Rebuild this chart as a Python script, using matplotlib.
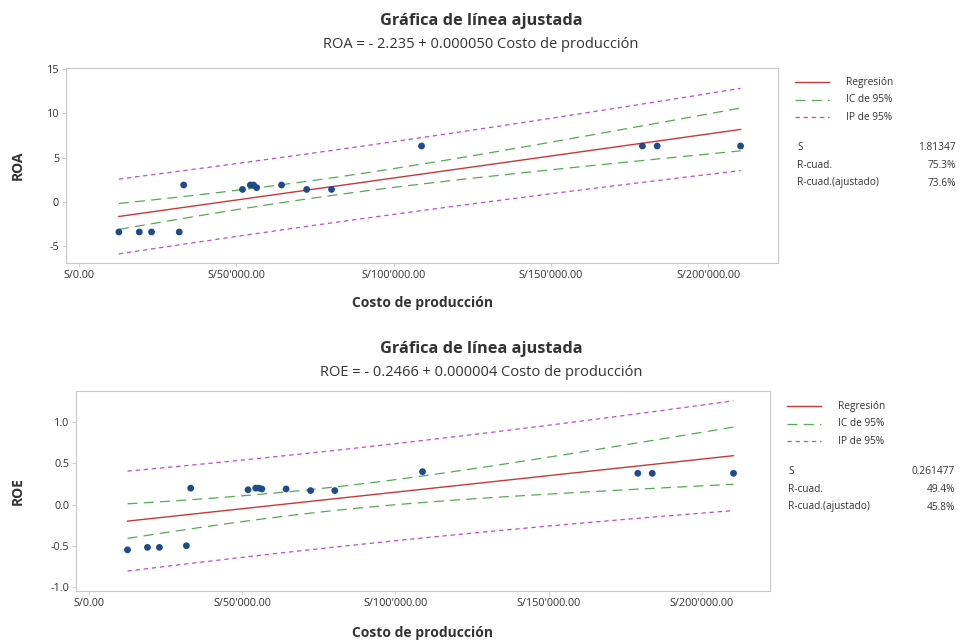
import numpy as np
import matplotlib
matplotlib.use("Agg")
import matplotlib.pyplot as plt
from matplotlib.ticker import FuncFormatter
from matplotlib.lines import Line2D

plt.rcParams['font.family'] = ['Open Sans', 'DejaVu Sans']
plt.rcParams['axes.unicode_minus'] = False

# ---- data ----
costo = [12700, 19200, 23100, 31900, 33300, 52000, 54500, 55500, 56500,
         64400, 72400, 80300, 108900, 179100, 183800, 210300]
roa = [-3.4, -3.4, -3.4, -3.4, 1.9, 1.4, 1.9, 1.9, 1.6,
       1.9, 1.4, 1.4, 6.3, 6.3, 6.3, 6.3]
roe = [-0.55, -0.52, -0.52, -0.50, 0.20, 0.18, 0.20, 0.20, 0.19,
       0.19, 0.17, 0.17, 0.40, 0.38, 0.38, 0.38]

x_ticks = [0, 50000, 100000, 150000, 200000]
roa_ticks = [-5, 0, 5, 10, 15]
roe_ticks = [-1.0, -0.5, 0.0, 0.5, 1.0]

titulo = "Gráfica de línea ajustada"
sub_roa = "ROA = - 2.235 + 0.000050 Costo de producción"
sub_roe = "ROE = - 0.2466 + 0.000004 Costo de producción"
xlabel = "Costo de producción"
leg_labels = ["Regresión", "IC de 95%", "IP de 95%"]
stats_names = ["S", "R-cuad.", "R-cuad.(ajustado)"]
stats_roa = ["1.81347", "75.3%", "73.6%"]
stats_roe = ["0.261477", "49.4%", "45.8%"]

T975 = 2.1448  # t(0.975, df=14)

C_REG = "#c43a3a"
C_CI = "#58a858"
C_PI = "#c04fc0"
C_PT = "#1f4a8c"
C_TXT = "#333333"
C_SP = "#c8c8c8"


def fmt_x(v, pos):
    s = f"{v:,.2f}".replace(",", "'")
    return "S/" + s


def fit_bands(x, y):
    x = np.asarray(x, float)
    y = np.asarray(y, float)
    n = len(x)
    b1, b0 = np.polyfit(x, y, 1)
    res = y - (b0 + b1 * x)
    s = np.sqrt(np.sum(res ** 2) / (n - 2))
    xm = x.mean()
    sxx = np.sum((x - xm) ** 2)
    g = np.linspace(x.min(), x.max(), 200)
    yh = b0 + b1 * g
    se_ci = s * np.sqrt(1 / n + (g - xm) ** 2 / sxx)
    se_pi = s * np.sqrt(1 + 1 / n + (g - xm) ** 2 / sxx)
    return g, yh, T975 * se_ci, T975 * se_pi


fig = plt.figure(figsize=(9.61, 6.41), dpi=100)
W, H = 961, 641


def panel(rect, y, yticks, ylim, ylab, sub, stats, title_y, sub_y, xl_y, ylab_x,
          leg_x0, leg_y0, stat_x0, stat_x1, stat_y0):
    l, t, r, b = rect
    ax = fig.add_axes([l / W, 1 - b / H, (r - l) / W, (b - t) / H])
    g, yh, ci, pi = fit_bands(costo, y)
    ax.plot(g, yh, color=C_REG, lw=1.0)
    ax.plot(g, yh + ci, color=C_CI, lw=0.9, dashes=(8, 5))
    ax.plot(g, yh - ci, color=C_CI, lw=0.9, dashes=(8, 5))
    ax.plot(g, yh + pi, color=C_PI, lw=0.9, dashes=(3.5, 3))
    ax.plot(g, yh - pi, color=C_PI, lw=0.9, dashes=(3.5, 3))
    ax.scatter(costo, y, s=24, color=C_PT, zorder=5, edgecolors='none')
    ax.set_xlim(-4100, 222200)
    ax.set_ylim(*ylim)
    ax.set_xticks(x_ticks)
    ax.set_yticks(yticks)
    ax.xaxis.set_major_formatter(FuncFormatter(fmt_x))
    if isinstance(yticks[0], float):
        ax.yaxis.set_major_formatter(FuncFormatter(lambda v, p: f"{v:.1f}"))
    ax.tick_params(labelsize=7.8, length=3, width=0.6, direction='out',
                   color=C_SP, labelcolor=C_TXT, pad=2)
    for sp in ax.spines.values():
        sp.set_color(C_SP)
        sp.set_linewidth(0.8)
    cx = (l + r) / 2
    fig.text(481 / W, 1 - title_y / H, titulo, ha='center', va='center',
             fontsize=11.8, fontweight='bold', color=C_TXT)
    fig.text(481 / W, 1 - sub_y / H, sub, ha='center', va='center',
             fontsize=10.5, color=C_TXT)
    fig.text(cx / W, 1 - xl_y / H, xlabel, ha='center', va='center',
             fontsize=10, fontweight='bold', color=C_TXT)
    fig.text(ylab_x / W, 1 - ((t + b) / 2) / H, ylab, ha='center', va='center',
             rotation=90, fontsize=10, fontweight='bold', color=C_TXT)
    # legend
    styles = [dict(color=C_REG, lw=1.0),
              dict(color=C_CI, lw=0.9, dashes=(8, 5)),
              dict(color=C_PI, lw=0.9, dashes=(3.5, 3))]
    for i, (lab, st) in enumerate(zip(leg_labels, styles)):
        yy = 1 - (leg_y0 + i * 17.5) / H
        ln = Line2D([leg_x0 / W, (leg_x0 + 34) / W], [yy, yy],
                    transform=fig.transFigure, **st)
        fig.add_artist(ln)
        fig.text((leg_x0 + 51) / W, yy, lab, ha='left', va='center',
                 fontsize=7.3, color=C_TXT)
    for i, (nm, val) in enumerate(zip(stats_names, stats)):
        yy = 1 - (stat_y0 + i * 18) / H
        fig.text(stat_x0 / W, yy, nm, ha='left', va='center', fontsize=7.3, color=C_TXT)
        fig.text(stat_x1 / W, yy, val, ha='right', va='center', fontsize=7.3, color=C_TXT)
    return ax


panel((66, 68, 778, 263), roa, roa_ticks, (-6.9, 15.1), "ROA", sub_roa, stats_roa,
      title_y=21, sub_y=44, xl_y=303, ylab_x=18,
      leg_x0=795, leg_y0=82, stat_x0=797, stat_x1=956, stat_y0=147)
panel((76, 391, 770, 591), roe, roe_ticks, (-1.05, 1.38), "ROE", sub_roe, stats_roe,
      title_y=349, sub_y=372, xl_y=633, ylab_x=18,
      leg_x0=787, leg_y0=406, stat_x0=788, stat_x1=955, stat_y0=471)

fig.savefig("out.png", dpi=100, facecolor='white')
